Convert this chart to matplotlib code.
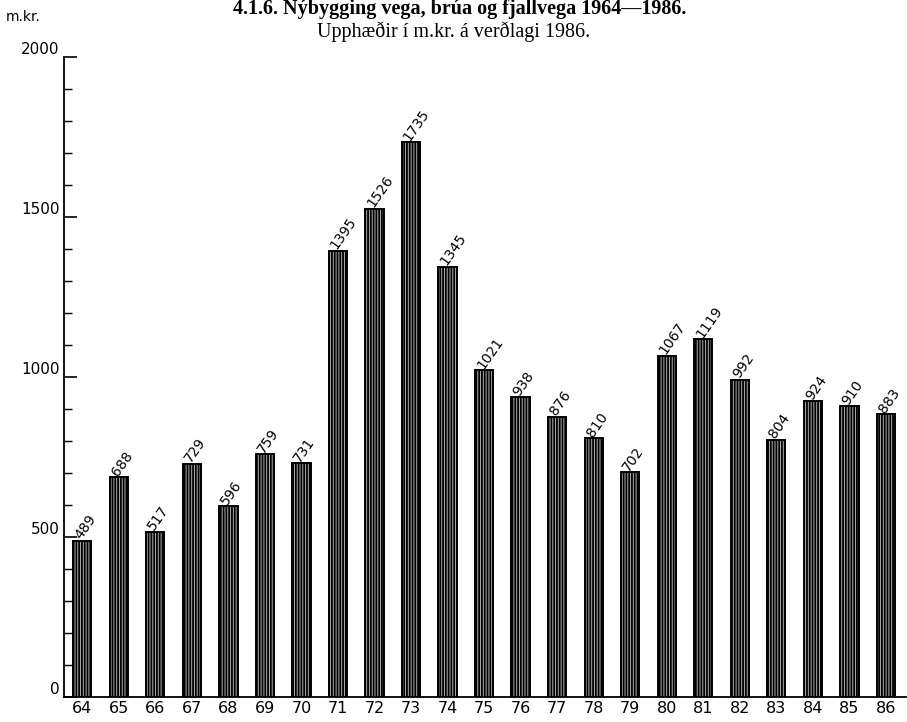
"""
Nybygging vega, brua og fjallvega 1964-1986, upphaedir i m.kr. a verdlagi 1986
"""

import numpy as np
import matplotlib
matplotlib.use("Agg")
import matplotlib.pyplot as plt
from matplotlib.ticker import MultipleLocator

years = ["64", "65", "66", "67", "68", "69", "70", "71", "72", "73", "74", "75",
         "76", "77", "78", "79", "80", "81", "82", "83", "84", "85", "86"]
values = [489, 688, 517, 729, 596, 759, 731, 1395, 1526, 1735, 1345, 1021,
          938, 876, 810, 702, 1067, 1119, 992, 804, 924, 910, 883]
value_labels = ["489", "688", "517", "729", "596", "759", "731", "1395", "1526",
                "1735", "1345", "1021", "938", "876", "810", "702", "1067", "1119",
                "992", "804", "924", "910", "883"]

TITLE = "4.1.6. Nýbygging vega, brúa og fjallvega 1964—1986."
SUBTITLE = "Upphæðir í m.kr. á verðlagi 1986."


def main():
    plt.rcParams["hatch.linewidth"] = 1.3
    fig = plt.figure(figsize=(9.07, 7.22), dpi=100)
    ax = fig.add_axes([64 / 907, 1 - 697 / 722, (906 - 64) / 907, (697 - 57) / 722])

    x = np.arange(len(years))
    ax.bar(x, values, width=0.5, facecolor="#b0b0b0", edgecolor="black",
           hatch="||||||", linewidth=1.4)

    for xi, v, lab in zip(x, values, value_labels):
        ax.text(xi - 0.12, v + 8, lab, rotation=55, rotation_mode="anchor",
                ha="left", va="center", fontsize=10, family="DejaVu Sans")

    ax.set_xlim(-0.5, len(years) - 0.45)
    ax.set_ylim(0, 2000)
    ax.set_xticks(x)
    ax.set_xticklabels(years, fontsize=11.5)
    ax.tick_params(axis="x", length=0, pad=3)

    ax.yaxis.set_major_locator(MultipleLocator(500))
    ax.yaxis.set_minor_locator(MultipleLocator(100))
    ax.tick_params(axis="y", which="major", direction="in", length=9, width=1.2,
                   labelsize=11, pad=3)
    ax.tick_params(axis="y", which="minor", direction="in", length=6, width=1.0)
    for lab in ax.get_yticklabels():
        lab.set_verticalalignment("bottom")

    for s in ["top", "right"]:
        ax.spines[s].set_visible(False)
    ax.spines["left"].set_linewidth(1.3)
    ax.spines["bottom"].set_linewidth(1.3)

    fig.text(0.507, 1 - 14 / 722, TITLE, ha="center", va="baseline",
             fontsize=14.5, fontweight="bold", family="Liberation Serif")
    fig.text(0.5, 1 - 37 / 722, SUBTITLE, ha="center", va="baseline",
             fontsize=14.5, family="Liberation Serif")
    fig.text(6 / 907, 1 - 21 / 722, "m.kr.", ha="left", va="baseline",
             fontsize=10, family="DejaVu Sans")

    fig.savefig("out.png", dpi=100)


if __name__ == "__main__":
    main()
